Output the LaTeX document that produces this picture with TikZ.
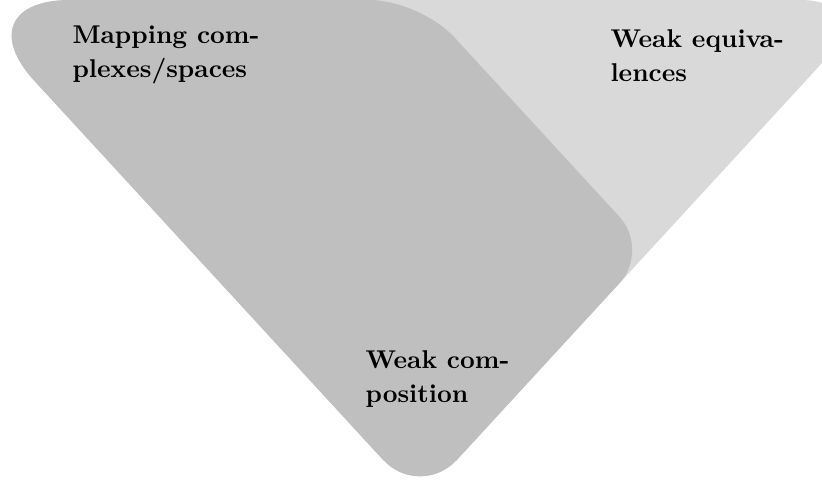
\documentclass[tikz,border=0pt]{standalone}
\usepackage{tikz}

\begin{document}
\begin{tikzpicture}[x=0.389pt,y=-0.389pt,
  dark part/.style={fill=black!25},
  light part/.style={fill=black!15},
  main node/.style={font=\bfseries\fontsize{10}{13.2}\selectfont,align=left,anchor=base west,inner sep=0pt}]
  \useasboundingbox (0,0) rectangle (822,479);
  \clip (0,0) rectangle (822,479);
  % corners of the big triangle
  \coordinate (tl) at (-40,0);
  \coordinate (tr) at (880,0);
  \coordinate (bt) at (420,500);
  \coordinate (tm) at (420,0);
  \coordinate (rm) at (650,250);
  \coordinate (lm) at (190,250);
  \path[light part] (tm) [rounded corners=31.1pt] -- (tr)
    [rounded corners=21.4pt] -- (bt)
    [rounded corners=42.8pt] -- (tl) -- cycle;
  \path[dark part] (lm) [rounded corners=42.8pt] -- (tl)
    [rounded corners=19.5pt] -- (tm)
    [rounded corners=17.5pt] -- (rm)
    [rounded corners=21.4pt] -- (bt) -- cycle;
  % labels (base = last line)
  \node[main node] (map) at (72,77) {Mapping com-\\plexes/spaces};
  \node[main node] (weq) at (610,81) {Weak equiva-\\lences};
  \node[main node] (wcomp) at (365,402) {Weak com-\\position};
\end{tikzpicture}
\end{document}
